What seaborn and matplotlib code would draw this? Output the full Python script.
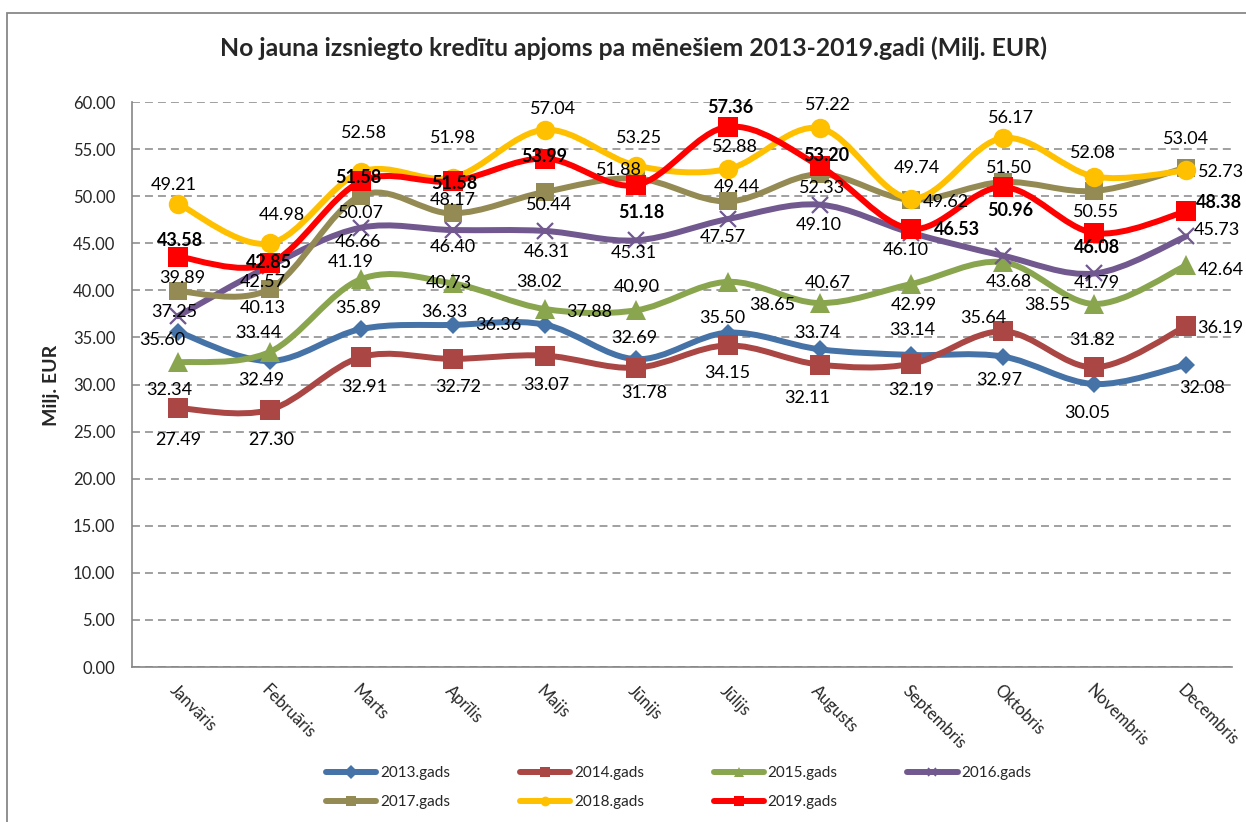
import numpy as np
import matplotlib
matplotlib.use("Agg")
import matplotlib.pyplot as plt
import seaborn as sns
from matplotlib.path import Path
from matplotlib.patches import PathPatch, Rectangle
from matplotlib.lines import Line2D
from matplotlib.transforms import ScaledTranslation

# ---------------- data ----------------
months = ["Janvāris", "Februāris", "Marts", "Aprīlis", "Maijs", "Jūnijs",
          "Jūlijs", "Augusts", "Septembris", "Oktobris", "Novembris", "Decembris"]
series_names = ["2013.gads", "2014.gads", "2015.gads", "2016.gads",
                "2017.gads", "2018.gads", "2019.gads"]
v2013 = [35.60, 32.49, 35.89, 36.33, 36.36, 32.69, 35.50, 33.74, 33.14, 32.97, 30.05, 32.08]
v2014 = [27.49, 27.30, 32.91, 32.72, 33.07, 31.78, 34.15, 32.11, 32.19, 35.64, 31.82, 36.19]
v2015 = [32.34, 33.44, 41.19, 40.73, 38.02, 37.88, 40.90, 38.65, 40.67, 42.99, 38.55, 42.64]
v2016 = [37.25, 42.57, 46.66, 46.40, 46.31, 45.31, 47.57, 49.10, 46.10, 43.68, 41.79, 45.73]
v2017 = [39.89, 40.13, 50.07, 48.17, 50.44, 51.88, 49.44, 52.33, 49.62, 51.50, 50.55, 53.04]
v2018 = [49.21, 44.98, 52.58, 51.98, 57.04, 53.25, 52.88, 57.22, 49.74, 56.17, 52.08, 52.73]
v2019 = [43.58, 42.85, 51.58, 51.58, 53.99, 51.18, 57.36, 53.20, 46.53, 50.96, 46.08, 48.38]
all_values = [v2013, v2014, v2015, v2016, v2017, v2018, v2019]
y_ticks = [0, 5, 10, 15, 20, 25, 30, 35, 40, 45, 50, 55, 60]

# ---------------- styles ----------------
colors = ["#4572A7", "#AA4643", "#89A54E", "#71588F", "#948A54", "#FFC000", "#FF0000"]
markers = ["D", "s", "^", "x", "s", "o", "s"]
msizes = [9, 14, 14, 11, 13.5, 14, 14.5]
label_bold = [False, False, False, False, False, False, True]

# label offsets in pixels (dx right, dy down) relative to each point
label_offsets = [
    [(-16, 8), (-8, 19), (-3, -21), (-9, -13), (-46, 0), (-2, -21), (-6, -15), (-2, -16), (1, -25), (-4, 23), (-7, 29), (16, 23)],
    [(0, 32), (2, 30), (3, 30), (5, 28), (2, 29), (8, 25), (-1, 28), (-12, 33), (0, 26), (-20, -13), (-2, -27), (34, 2)],
    [(-9, 28), (-11, -19), (-10, -17), (-4, 0), (-5, -27), (-47, 2), (-91, 5), (-47, 2), (-83, -1), (-89, 43), (-47, 1), (35, 5)],
    [(-4, -4), (-7, 16), (-3, 14), (0, 17), (2, 21), (-2, 13), (-5, 18), (-1, 20), (-5, 17), (6, 26), (2, 10), (31, -6)],
    [(4, -13), (-7, 19), (0, 17), (0, -13), (5, 13), (-17, -8), (9, -14), (3, 14), (35, 2), (6, -14), (2, 21), (0, -29)],
    [(-4, -19), (12, -28), (3, -39), (0, -40), (9, -21), (3, -28), (7, -22), (8, -23), (6, -31), (8, -20), (-2, -24), (35, 2)],
    [(2, -16), (-1, -1), (-3, -4), (1, 2), (0, -2), (5, 27), (2, -19), (7, -11), (46, 1), (7, 23), (3, 14), (33, -9)],
]

W, H = 1246, 822
sns.set_style("white")
plt.rcParams["font.family"] = ["Lato", "DejaVu Sans"]

fig = plt.figure(figsize=(W / 100, H / 100), dpi=100)
ax = fig.add_axes([132 / W, 1 - 667 / H, 1100 / W, 565 / H])

xpos = np.arange(len(months))


def smooth_path(xs, ys):
    pts = np.column_stack([xs, ys]).astype(float)
    n = len(pts)
    verts = [pts[0]]
    codes = [Path.MOVETO]
    for i in range(n - 1):
        p0 = pts[i - 1] if i > 0 else pts[i]
        p1 = pts[i]
        p2 = pts[i + 1]
        p3 = pts[i + 2] if i + 2 < n else pts[i + 1]
        c1 = p1 + (p2 - p0) / 6.0
        c2 = p2 - (p3 - p1) / 6.0
        verts += [c1, c2, p2]
        codes += [Path.CURVE4] * 3
    return Path(verts, codes)


for k, vals in enumerate(all_values):
    z = 3 + 2 * k
    patch = PathPatch(smooth_path(xpos, vals), facecolor="none", edgecolor=colors[k],
                      lw=4.3, capstyle="round", joinstyle="round", zorder=z)
    ax.add_patch(patch)
    if markers[k] == "x":
        sns.lineplot(x=xpos, y=vals, ax=ax, color=colors[k], marker="x", markersize=msizes[k],
                     markeredgewidth=1.6, markeredgecolor=colors[k], linewidth=0, zorder=z + 1)
    else:
        sns.lineplot(x=xpos, y=vals, ax=ax, color=colors[k], marker=markers[k], markersize=msizes[k],
                     markeredgewidth=0, markeredgecolor=colors[k], linewidth=0, zorder=z + 1)

for k, vals in enumerate(all_values):
    for i, v in enumerate(vals):
        dx, dy = label_offsets[k][i]
        ax.annotate(f"{v:.2f}", (xpos[i], v), xytext=(dx, -dy), textcoords="offset pixels",
                    ha="center", va="center", fontsize=13, color="black",
                    fontweight="bold" if label_bold[k] else "normal", zorder=30)

ax.set_xlim(-0.5, len(months) - 0.5)
ax.set_ylim(0, 60)
ax.set_yticks(y_ticks)
ax.set_yticklabels([f"{t:.2f}" for t in y_ticks], fontsize=12)
ax.set_xticks(xpos)
ax.set_xticklabels(months, rotation=-45, ha="left", va="top", rotation_mode="anchor", fontsize=12)
off = ScaledTranslation(-8 / 100, 0, fig.dpi_scale_trans)
for lab in ax.get_xticklabels():
    lab.set_transform(lab.get_transform() + off)
ax.tick_params(axis="both", length=0)
ax.tick_params(axis="y", pad=12)
ax.tick_params(axis="x", pad=11)
ax.set_xlabel("")
ax.set_ylabel("")
ax.yaxis.grid(True, linestyle=(0, (5.2, 3.3)), color="#868686", lw=1.1)
ax.xaxis.grid(False)
for s in ["top", "right"]:
    ax.spines[s].set_visible(False)
for s in ["left", "bottom"]:
    ax.spines[s].set_color("#868686")
    ax.spines[s].set_linewidth(1.2)
ax.set_axisbelow(True)

fig.text(633 / W, 1 - 48 / H, "No jauna izsniegto kredītu apjoms pa mēnešiem 2013-2019.gadi (Milj. EUR)",
         ha="center", va="center", fontsize=17.8, fontweight="bold")
fig.text(52 / W, 1 - 385 / H, "Milj. EUR", rotation=90, ha="center", va="center",
         fontsize=14, fontweight="bold")

# outer chart frame
fig.add_artist(Rectangle((7 / W, -0.05), 1.2, 1 - 13 / H + 0.05, transform=fig.transFigure,
                         fill=False, edgecolor="#888888", lw=1.3))

# legend (row-major ordering)
handles = []
for k in range(len(series_names)):
    if markers[k] == "x":
        h = Line2D([0], [0], color=colors[k], lw=4.3, marker="x", markersize=6,
                   markeredgewidth=1.2, markeredgecolor=colors[k])
    else:
        h = Line2D([0], [0], color=colors[k], lw=4.3, marker=markers[k], markersize=7, markeredgewidth=0)
    handles.append(h)
order = [0, 4, 1, 5, 2, 6, 3]
fig.legend([handles[i] for i in order], [series_names[i] for i in order], ncol=4,
           loc="upper left", bbox_to_anchor=(326 / W, 1 - 766 / H), frameon=False,
           fontsize=11, handlelength=3.3, handletextpad=0.25, columnspacing=4.55,
           labelspacing=1.0, borderpad=0, borderaxespad=0)

fig.savefig("out.png", dpi=100)
